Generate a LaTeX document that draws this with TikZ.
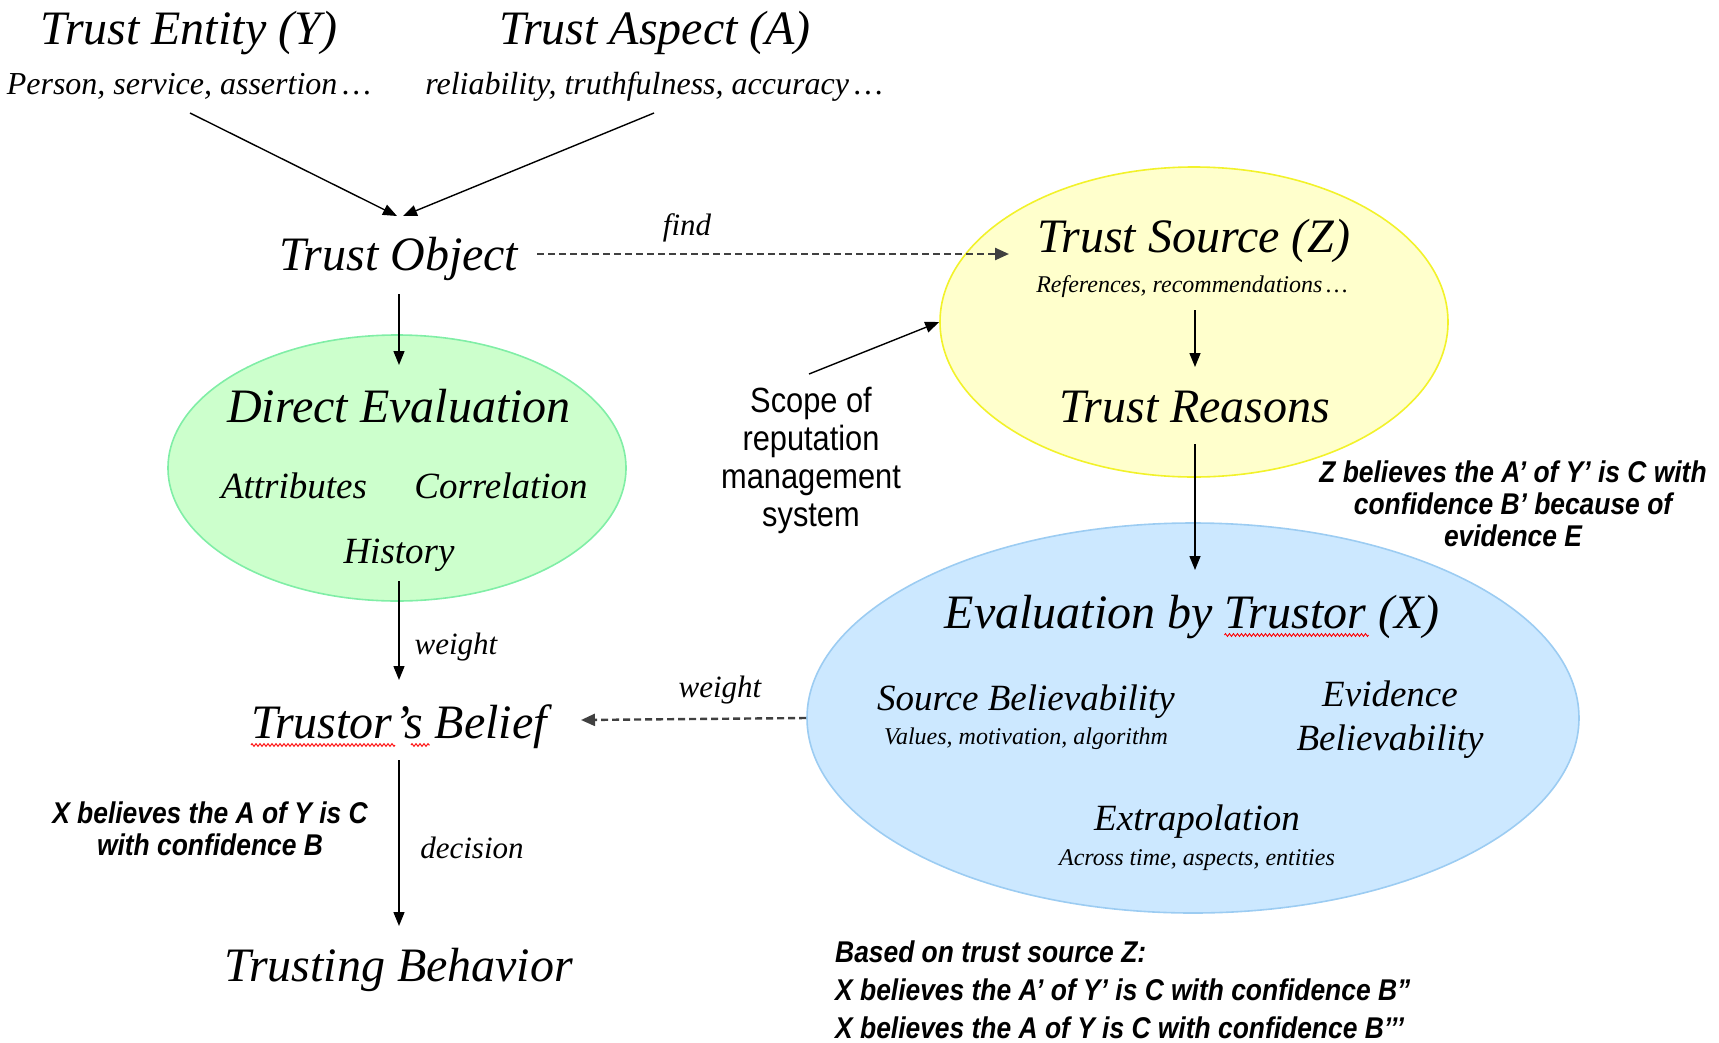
\documentclass[tikz,border=0pt]{standalone}
\usepackage{fontspec}
\setmainfont{Liberation Serif}
\newfontfamily\notefont[FakeStretch=0.88]{Liberation Sans}
\usetikzlibrary{shapes.geometric,arrows.meta,decorations.pathmorphing}

\definecolor{grfill}{HTML}{CCFFCC}
\definecolor{grline}{HTML}{80EEA6}
\definecolor{yefill}{HTML}{FFFFCC}
\definecolor{yeline}{HTML}{F2F22A}
\definecolor{blfill}{HTML}{CCE8FF}
\definecolor{blline}{HTML}{9CCCF2}
\definecolor{dashgray}{HTML}{404040}

\tikzset{
  big/.style={inner sep=0pt, font=\fontsize{48}{52}\selectfont\itshape},
  mid/.style={inner sep=0pt, font=\fontsize{37}{42}\selectfont\itshape},
  sub/.style={inner sep=0pt, font=\fontsize{32}{36}\selectfont\itshape},
  tiny/.style={inner sep=0pt, font=\fontsize{24}{28}\selectfont\itshape},
  lab/.style={inner sep=0pt, font=\fontsize{31}{34}\selectfont\itshape},
  note/.style={inner sep=0pt, align=center, font=\notefont\fontsize{30}{32}\selectfont\bfseries\itshape},
  scopetext/.style={inner sep=0pt, align=center, font=\notefont\fontsize{35}{38}\selectfont},
  blob/.style={ellipse, inner sep=0pt, line width=1.6pt},
  arr/.style={line width=1.4pt, -{Triangle[length=14pt,width=11pt]}},
  darr/.style={line width=2.4pt, dashgray, dash pattern=on 7pt off 4pt, -{Triangle[length=14pt,width=12pt]}},
  spell/.style={red, line width=0.9pt, decorate, decoration={zigzag, segment length=4pt, amplitude=1.4pt}}
}

\begin{document}
\begin{tikzpicture}[x=1pt, y=-1pt]
\useasboundingbox (0,0) rectangle (1719,1042);

% coloured groups
\node[blob, draw=grline, fill=grfill, minimum width=458pt, minimum height=266pt] (ge) at (397,468) {};
\node[blob, draw=yeline, fill=yefill, minimum width=508pt, minimum height=310pt] (ys) at (1194,322) {};
\node[blob, draw=blline, fill=blfill, minimum width=772pt, minimum height=390pt] (bx) at (1193,718) {};

% top inputs
\node[big, anchor=base] (ent) at (189,44) {Trust Entity (Y)};
\node[sub, anchor=base] (entsub) at (189,94) {Person, service, assertion\,\ldots};
\node[big, anchor=base] (asp) at (655,44) {Trust Aspect (A)};
\node[sub, anchor=base] (aspsub) at (654,94) {reliability, truthfulness, accuracy\,\ldots};

% left column
\node[big, anchor=base] (obj) at (399,270) {Trust Object};
\node[big, anchor=base] (dir) at (399,422) {Direct Evaluation};
\node[mid, anchor=base] (attr) at (294,498) {Attributes};
\node[mid, anchor=base] (corr) at (501,498) {Correlation};
\node[mid, anchor=base] (hist) at (399,563) {History};
\node[big, anchor=base] (bel) at (399,738) {Trustor’s Belief};
\node[big, anchor=base] (beh) at (399,981) {Trusting Behavior};

% trust source group
\node[big, anchor=base] (src) at (1194,252) {Trust Source (Z)};
\node[tiny, anchor=base] (srcsub) at (1192,292) {References, recommendations\,\ldots};
\node[big, anchor=base] (rea) at (1195,422) {Trust Reasons};

% trustor evaluation group
\node[big, anchor=base] (evx) at (1192,628) {Evaluation by Trustor (X)};
\node[mid, anchor=base] (sbel) at (1026,710) {Source Believability};
\node[tiny, anchor=base] (sbelsub) at (1026,744) {Values, motivation, algorithm};
\node[mid, anchor=base] (ebel1) at (1390,706) {Evidence};
\node[mid, anchor=base] (ebel2) at (1390,750) {Believability};
\node[mid, anchor=base] (extra) at (1197,830) {Extrapolation};
\node[tiny, anchor=base] (extrasub) at (1197,865) {Across time, aspects, entities};

% connector labels
\node[lab, anchor=base] (lfind) at (687,235) {find};
\node[lab, anchor=base] (lw1) at (456,654) {weight};
\node[lab, anchor=base] (lw2) at (720,697) {weight};
\node[lab, anchor=base] (ldec) at (472,858) {decision};

% statements
\node[note] (xb) at (210,829) {X believes the A of Y is C\\with confidence B};
\node[note] (zb) at (1513,504) {Z believes the A’ of Y’ is C with\\confidence B’ because of\\evidence E};
\node[note, align=left, anchor=west, font=\notefont\fontsize{30}{38}\selectfont\bfseries\itshape] (based) at (835,990)
  {Based on trust source Z:\\X believes the A’ of Y’ is C with confidence B”\\X believes the A of Y is C with confidence B’’’};
\node[scopetext] (scope) at (811,460) {Scope of\\reputation\\management\\system};

% arrow end points
\coordinate (entfoot) at (190,113);
\coordinate (aspfoot) at (654,113);
\coordinate (objL) at (397,216);
\coordinate (objR) at (403,216);
\coordinate (objout) at (399,294);
\coordinate (dirtop) at (399,365);
\coordinate (geout) at (399,581);
\coordinate (beltop) at (399,680);
\coordinate (belout) at (399,760);
\coordinate (behtop) at (399,926);
\coordinate (findtip) at (1009,254);
\coordinate (objright) at (537,254);
\coordinate (srcout) at (1195,310);
\coordinate (reatop) at (1195,367);
\coordinate (reaout) at (1195,444);
\coordinate (evxtop) at (1195,570);
\coordinate (scopetop) at (809,374);
\coordinate (belright) at (581,720);

% connectors
\draw[arr] (entfoot) -- (objL);
\draw[arr] (aspfoot) -- (objR);
\draw[arr] (objout) -- (dirtop);
\draw[arr] (geout) -- (beltop);
\draw[arr] (belout) -- (behtop);
\draw[darr] (objright) -- (findtip);
\draw[arr] (srcout) -- (reatop);
\draw[arr] (reaout) -- (evxtop);
\draw[arr] (scopetop) -- (ys.west);
\draw[darr] (bx.west) -- (belright);

% spelling marks
\draw[spell] ([yshift=-7pt]bel.base west) -- ++(144,0);
\draw[spell] ([xshift=160pt, yshift=-7pt]bel.base west) -- ++(19,0);
\draw[spell] ([xshift=280pt, yshift=-7pt]evx.base west) -- ++(144,0);
\end{tikzpicture}
\end{document}
